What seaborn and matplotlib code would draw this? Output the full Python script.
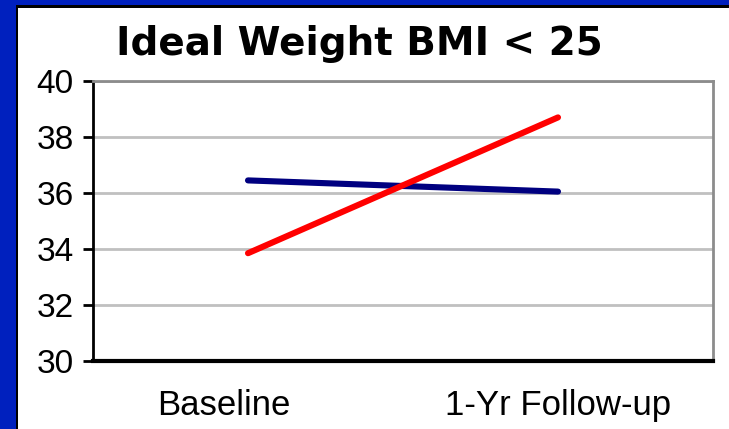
import pandas as pd
import numpy as np
import matplotlib.pyplot as plt
import matplotlib.transforms as mtransforms
import seaborn as sns
from matplotlib.patches import Rectangle

# data
timepoints = ['Baseline', '1-Yr Follow-up']
series_navy = [36.45, 36.05]
series_red = [33.85, 38.7]
yticks = [30, 32, 34, 36, 38, 40]

df = pd.DataFrame({
    'pos': list(range(len(timepoints))) * 2,
    'bmi': series_navy + series_red,
    'group': ['navy'] * len(timepoints) + ['red'] * len(timepoints),
})

sns.set_theme(style='white')
plt.rcParams['font.family'] = ['Liberation Sans Narrow', 'Liberation Sans', 'DejaVu Sans']
plt.rcParams['text.color'] = 'black'
plt.rcParams['xtick.color'] = 'black'
plt.rcParams['ytick.color'] = 'black'

fig = plt.figure(figsize=(7.29, 4.29), dpi=100)
fig.patch.set_facecolor('#0020BE')

# white slide panel with black edge on left/top
W, H = 729, 429
fig.patches.append(Rectangle((16 / W, 0), 1, (H - 5) / H, transform=fig.transFigure,
                             facecolor='white', edgecolor='none', zorder=-3))
fig.patches.append(Rectangle((16 / W, 0), 2.5 / W, (H - 5) / H, transform=fig.transFigure,
                             facecolor='black', edgecolor='none', zorder=-2))
fig.patches.append(Rectangle((16 / W, (H - 8) / H), 1, 3 / H, transform=fig.transFigure,
                             facecolor='black', edgecolor='none', zorder=-2))

ax = fig.add_axes([93 / W, (H - 361) / H, (713 - 93) / W, (361 - 81) / H])
ax.set_facecolor('white')

sns.lineplot(data=df, x='pos', y='bmi', hue='group',
             palette={'navy': '#000080', 'red': '#FF0000'},
             linewidth=4.4, legend=False, ax=ax)

ax.set_xlim(-0.5, 1.5)
ax.set_ylim(30, 40)
ax.set_yticks(yticks)
ax.set_yticklabels([str(v) for v in yticks], fontsize=24)
ax.set_xticks(range(len(timepoints)))
ax.set_xticklabels(timepoints, fontsize=25)
ax.tick_params(axis='y', length=7, width=2, color='black', labelcolor='black', pad=7, left=True)
ax.tick_params(axis='x', length=0, pad=20, labelcolor='black')
ax.set_xlabel('')
ax.set_ylabel('')

# first label sits a bit left of its category in the original
lbl = ax.get_xticklabels()[0]
lbl.set_transform(lbl.get_transform() + mtransforms.ScaledTranslation(-0.24, 0, fig.dpi_scale_trans))

ax.yaxis.grid(True, color='#C0C0C0', linewidth=2)
ax.set_axisbelow(True)

for side in ['left', 'bottom']:
    ax.spines[side].set_color('black')
ax.spines['left'].set_linewidth(2)
ax.spines['bottom'].set_linewidth(3)
for side in ['top', 'right']:
    ax.spines[side].set_color('#8C8C8C')
    ax.spines[side].set_linewidth(2)
    ax.spines[side].set_visible(True)

fig.text(359 / W, (H - 44) / H, 'Ideal Weight BMI < 25', ha='center', va='center',
         fontsize=28, fontweight='bold', family='DejaVu Sans', color='black')

fig.savefig('out.png', dpi=100, facecolor=fig.get_facecolor())
